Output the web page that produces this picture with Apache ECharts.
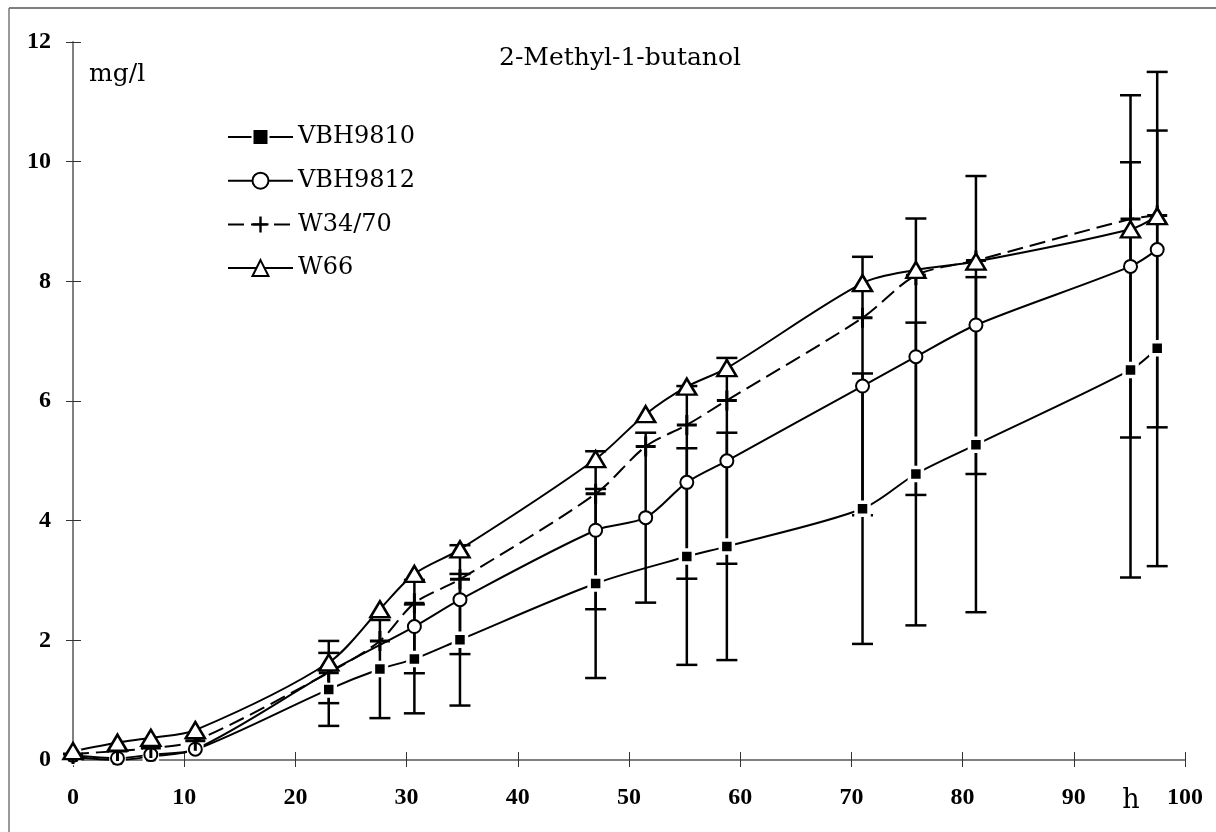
<!DOCTYPE html>
<html>
<head>
<meta charset="utf-8">
<script src="https://cdn.jsdelivr.net/npm/echarts@6/dist/echarts.min.js"></script>
<style>
html,body{margin:0;padding:0;background:#fff;}
#chart{width:1216px;height:832px;}
</style>
</head>
<body>
<div id="chart"></div>
<script>
// ---- data ----
const titleText = '2-Methyl-1-butanol';
const yUnit = 'mg/l';
const xUnit = 'h';
const seriesNames = ['VBH9810', 'VBH9812', 'W34/70', 'W66'];
const hours = [0, 4, 7, 11, 23, 27.6, 30.7, 34.8, 47, 51.5, 55.2, 58.8, 71, 75.8, 81.2, 95.1, 97.5];
const vbh9810    = [0.05, 0.00, 0.06, 0.17, 1.18, 1.52, 1.69, 2.01, 2.95, null, 3.40, 3.57, 4.20, 4.78, 5.27, 6.52, 6.88];
const vbh9810Err = [0, 0, 0, 0, 0.61, 0.82, 0.91, 1.10, 1.58, null, 1.81, 1.90, 2.26, 2.53, 2.80, 3.47, 3.64];
const vbh9812    = [0.08, 0.03, 0.09, 0.18, 1.47, null, 2.23, 2.68, 3.84, 4.05, 4.64, 5.00, 6.25, 6.74, 7.27, 8.25, 8.53];
const vbh9812Err = [0, 0, 0, 0, 0.52, null, 0.78, 0.91, 1.32, 1.42, 1.61, 1.72, 2.16, 2.31, 2.49, 2.86, 2.97];
const vbh9812NoMarkerAt = [23];
const w3470      = [0.10, 0.15, 0.20, 0.32, 1.46, 1.99, 2.62, 3.02, 4.45, 5.24, 5.60, 6.01, 7.39, 8.10, 8.35, 9.04, 9.10];
const w66        = [0.15, 0.29, 0.37, 0.50, 1.63, 2.52, 3.11, 3.52, 5.03, 5.78, 6.24, 6.55, 7.97, 8.19, 8.33, 8.87, 9.09];
const xTicks = {min: 0, max: 100, interval: 10};
const yTicks = {min: 0, max: 12, interval: 2};

function pairs(vals, noMarker) {
  return hours.map((t, i) => {
    if (vals[i] == null) return null;
    if (noMarker && noMarker.indexOf(t) >= 0) return {value: [t, vals[i]], symbol: 'none'};
    return [t, vals[i]];
  }).filter(Boolean);
}
function bars(vals, errs) {
  return hours.map((t, i) => (vals[i] == null || !errs[i]) ? null : [t, vals[i] - errs[i], vals[i] + errs[i]]).filter(Boolean);
}

const axisLabelFont = {fontFamily: 'Liberation Serif', fontWeight: 'bold', fontSize: 24, color: '#000'};
const serif = 'DejaVu Serif';

function errorBarSeries(data) {
  return {
    type: 'custom',
    data: data,
    encode: {x: 0, y: [1, 2]},
    z: 1,
    silent: true,
    renderItem: function (params, api) {
      const x = api.value(0);
      const lo = api.coord([x, api.value(1)]);
      const hi = api.coord([x, api.value(2)]);
      const w = 10.5;
      const st = {stroke: '#000', lineWidth: 2.5};
      return {
        type: 'group',
        children: [
          {type: 'line', shape: {x1: lo[0], y1: lo[1], x2: hi[0], y2: hi[1]}, style: st},
          {type: 'line', shape: {x1: lo[0] - w, y1: lo[1], x2: lo[0] + w, y2: lo[1]}, style: st},
          {type: 'line', shape: {x1: hi[0] - w, y1: hi[1], x2: hi[0] + w, y2: hi[1]}, style: st}
        ]
      };
    }
  };
}

const plusPath = 'path://M8.5,0H11.5V8.5H20V11.5H11.5V20H8.5V11.5H0V8.5H8.5Z';

const chart = echarts.init(document.getElementById('chart'), null, {renderer: 'canvas'});
const grid = {left: 73, top: 42, width: 1112, height: 718};

const option = {
  backgroundColor: '#fff',
  animation: false,
  title: {
    text: titleText,
    left: 494, top: 41,
    textStyle: {fontFamily: serif, fontSize: 25, fontWeight: 'normal', color: '#000'}
  },
  grid: grid,
  legend: {
    data: seriesNames,
    orient: 'vertical',
    left: 222, top: 120,
    itemWidth: 65, itemHeight: 20, itemGap: 19.7,
    textStyle: {fontFamily: serif, fontSize: 24, color: '#000', lineHeight: 24},
    selectedMode: false
  },
  xAxis: [{
    type: 'value', min: xTicks.min, max: xTicks.max, interval: xTicks.interval,
    axisLine: {show: true, onZero: false, lineStyle: {color: '#808080', width: 2}},
    axisTick: {show: true, inside: false, length: 7, lineStyle: {color: '#333', width: 1}},
    axisLabel: Object.assign({margin: 26}, axisLabelFont),
    splitLine: {show: false}
  }, {
    type: 'value', min: xTicks.min, max: xTicks.max, interval: xTicks.interval, position: 'bottom',
    axisLine: {show: false},
    axisTick: {show: true, inside: true, length: 8, lineStyle: {color: '#333', width: 1}},
    axisLabel: {show: false},
    splitLine: {show: false}
  }],
  yAxis: [{
    type: 'value', min: yTicks.min, max: yTicks.max, interval: yTicks.interval,
    axisLine: {show: true, onZero: false, lineStyle: {color: '#808080', width: 2}},
    axisTick: {show: true, inside: false, length: 7, lineStyle: {color: '#333', width: 1}},
    axisLabel: Object.assign({margin: 22}, axisLabelFont),
    splitLine: {show: false}
  }, {
    type: 'value', min: yTicks.min, max: yTicks.max, interval: yTicks.interval, position: 'left',
    axisLine: {show: false},
    axisTick: {show: true, inside: true, length: 8, lineStyle: {color: '#333', width: 1}},
    axisLabel: {show: false},
    splitLine: {show: false}
  }],
  graphic: [
    {type: 'line', shape: {x1: 9, y1: 8, x2: 1216, y2: 8}, style: {stroke: '#555', lineWidth: 1.5}},
    {type: 'line', shape: {x1: 9, y1: 8, x2: 9, y2: 832}, style: {stroke: '#777', lineWidth: 1.5}},
    {type: 'text', x: 89, y: 74, style: {text: yUnit, font: '25px "DejaVu Serif"', fill: '#000', textAlign: 'left', textVerticalAlign: 'middle'}},
    {type: 'text', x: 1131, y: 801, style: {text: xUnit, font: '27px "DejaVu Serif"', fill: '#000', textAlign: 'center', textVerticalAlign: 'middle'}}
  ],
  series: [
    errorBarSeries(bars(vbh9810, vbh9810Err)),
    errorBarSeries(bars(vbh9812, vbh9812Err)),
    {
      name: seriesNames[0], type: 'line', data: pairs(vbh9810), smooth: 0.3, z: 3,
      symbol: 'rect', symbolSize: 13,
      lineStyle: {color: '#000', width: 2},
      itemStyle: {color: '#000', borderColor: '#fff', borderWidth: 3.5}
    },
    {
      name: seriesNames[1], type: 'line', data: pairs(vbh9812, vbh9812NoMarkerAt), smooth: 0.3, z: 3,
      symbol: 'circle', symbolSize: 13,
      lineStyle: {color: '#000', width: 2},
      itemStyle: {color: '#fff', borderColor: '#000', borderWidth: 2}
    },
    {
      name: seriesNames[2], type: 'line', data: pairs(w3470), smooth: 0.3, z: 3,
      symbol: plusPath, symbolSize: 20,
      lineStyle: {color: '#000', width: 2, type: [16, 7]},
      itemStyle: {color: '#000', borderWidth: 0}
    },
    {
      name: seriesNames[3], type: 'line', data: pairs(w66), smooth: 0.3, z: 3,
      symbol: 'triangle', symbolSize: [19, 16],
      lineStyle: {color: '#000', width: 2},
      itemStyle: {color: '#fff', borderColor: '#000', borderWidth: 2.5}
    }
  ]
};
chart.setOption(option);
</script>
</body>
</html>
